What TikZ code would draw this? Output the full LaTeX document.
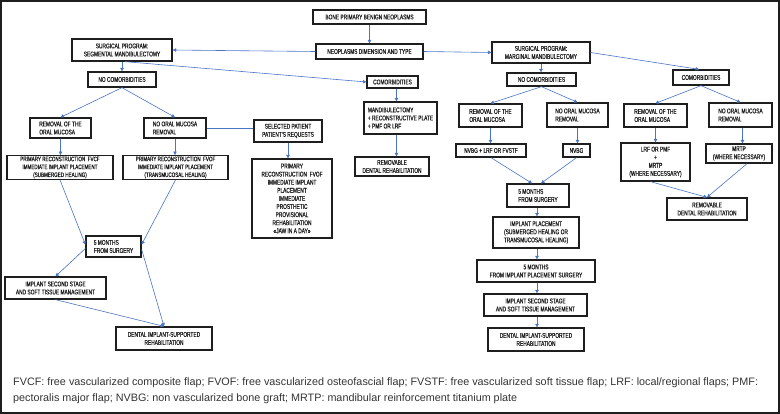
\documentclass[tikz,border=0pt]{standalone}
\usepackage{fontspec}
\usetikzlibrary{arrows.meta,calc}
\newfontfamily\boxfamily{Liberation Sans}[FakeStretch=0.7,FakeBold=0.6]
\newfontfamily\legfamily{Liberation Sans}
\definecolor{arrblue}{HTML}{4A74C4}
\definecolor{boxline}{HTML}{1E1E1E}
\definecolor{legtext}{HTML}{333333}
\tikzset{
  bx/.style={draw=boxline, line width=1.3pt, inner sep=1pt, text=boxline,
    font=\boxfamily\fontsize{6.9}{8.1}\selectfont, align=center},
  bxl/.style={bx, align=left},
  bxs/.style={bx, font=\boxfamily\fontsize{6.5}{7.9}\selectfont},
  wh/.style 2 args={minimum width=#1pt, minimum height=#2pt},
  arr/.style={draw=arrblue, line width=0.6pt, -{Triangle[width=3.4pt,length=3.4pt]}},
  plainline/.style={draw=arrblue, line width=0.6pt},
  legend/.style={anchor=west, inner sep=0pt, text=legtext,
    font=\legfamily\fontsize{10.8}{12}\selectfont}
}
\begin{document}
\begin{tikzpicture}[x=1pt,y=-1pt]
\useasboundingbox (0,0) rectangle (780,414);
\draw[line width=1.6pt, draw=boxline] (0.8,0.8) rectangle (779.2,413.2);

% top
\node[bx, wh={113}{14}] (title) at (369.5,17) {BONE PRIMARY BENIGN NEOPLASMS};
\node[bx, wh={107}{15}] (ndt) at (369.5,51.5) {NEOPLASMS DIMENSION AND TYPE};
\node[bx, wh={100}{22}] (seg) at (122,50) {SURGICAL PROGRAM:\\SEGMENTAL MANDIBULECTOMY};
\node[bx, wh={98}{21}] (mar) at (541,52.5) {SURGICAL PROGRAM:\\MARGINAL MANDIBULECTOMY};

% segmental branch
\node[bx, wh={68}{15}] (nc1) at (122,79.5) {NO COMORBIDITIES};
\node[bx, wh={51}{12}] (c1) at (392.5,82) {COMORBIDITIES};
\node[bxl, wh={61}{20}] (rom1) at (60.5,128) {REMOVAL OF THE\\ORAL MUCOSA};
\node[bxl, wh={62}{20}] (nom1) at (175,128) {NO ORAL MUCOSA\\REMOVAL};
\node[bx, wh={68}{22}] (sel) at (288,131) {SELECTED PATIENT\\PATIENT'S REQUESTS};
\node[bx, wh={80}{79}] (jaw) at (292,198.5) {PRIMARY\\RECONSTRUCTION\ \ FVOF\\IMMEDIATE IMPLANT\\PLACEMENT\\IMMEDIATE\\PROSTHETIC\\PROVISIONAL\\REHABILITATION\\«JAW IN A DAY»};
\node[bxl, wh={73}{32}] (mand) at (400.5,118) {MANDIBULECTOMY\\+ RECONSTRUCTIVE PLATE\\+ PMF OR LRF};
\node[bx, wh={74}{19}] (rdr1) at (392,166.5) {REMOVABLE\\DENTAL REHABILITATION};
\node[bxs, wh={106}{21}] (fvcf) at (60,167.5) {PRIMARY RECONSTRUCTION\ \ FVCF\\IMMEDIATE IMPLANT PLACEMENT\\(SUBMERGED HEALING)};
\node[bxs, wh={105}{21}] (fvof) at (175.5,167.5) {PRIMARY RECONSTRUCTION\ \ FVOF\\IMMEDIATE IMPLANT PLACEMENT\\(TRANSMUCOSAL HEALING)};
\node[bxl, wh={55}{21}] (fm1) at (113.5,246.5) {5 MONTHS\\FROM SURGERY};
\node[bx, wh={101}{22}] (iss1) at (55.5,288) {IMPLANT SECOND STAGE\\AND SOFT TISSUE MANAGEMENT};
\node[bx, wh={96}{23}] (dir1) at (164,338.5) {DENTAL IMPLANT-SUPPORTED\\REHABILITATION};

% marginal branch
\node[bx, wh={69}{13}] (nc2) at (541.5,79.5) {NO COMORBIDITIES};
\node[bx, wh={56}{15}] (c2) at (701,77.5) {COMORBIDITIES};
\node[bxl, wh={63}{23}] (rom2) at (490.5,115.5) {REMOVAL OF THE\\ORAL MUCOSA};
\node[bxl, wh={61}{24}] (nom2) at (577.5,115) {NO ORAL MUCOSA\\REMOVAL};
\node[bxl, wh={63}{23}] (rom3) at (655.5,115.5) {REMOVAL OF THE\\ORAL MUCOSA};
\node[bxl, wh={63}{24}] (nom3) at (740.5,115) {NO ORAL MUCOSA\\REMOVAL};
\node[bx, wh={70}{13}] (nvbg1) at (491,150.5) {NVBG + LRF OR FVSTF};
\node[bx, wh={27}{13}] (nvbg2) at (576.5,150.5) {NVBG};
\node[bxl, wh={62}{23}] (fm2) at (538,195.5) {5 MONTHS\\FROM SURGERY};
\node[bx, wh={69}{38}] (lrf) at (655.5,162) {LRF OR PMF\\+\\MRTP\\(WHERE NECESSARY)};
\node[bx, wh={66}{19}] (mrtp) at (739,153.5) {MRTP\\(WHERE NECESSARY)};
\node[bx, wh={80}{22}] (rdr2) at (707,209) {REMOVABLE\\DENTAL REHABILITATION};
\node[bx, wh={86}{31}] (ip) at (536,232.5) {IMPLANT PLACEMENT\\(SUBMERGED HEALING OR\\TRANSMUCOSAL HEALING)};
\node[bx, wh={118}{22}] (fm3) at (536,271) {5 MONTHS\\FROM IMPLANT PLACEMENT SURGERY};
\node[bx, wh={103}{22}] (iss2) at (535.5,305) {IMPLANT SECOND STAGE\\AND SOFT TISSUE MANAGEMENT};
\node[bx, wh={96}{23}] (dir2) at (536,339.5) {DENTAL IMPLANT-SUPPORTED\\REHABILITATION};

% helper coordinates
\coordinate (xmand) at (396.5,0);
\coordinate (xmarg) at (537,0);

% connectors: top
\draw[arr] (title) -- (ndt);
\draw[arr] (ndt.west) -- (seg.east);
\draw[arr] (ndt.east) -- (mar.west);
\draw[arr] ([xshift=3pt]seg.south) -- (c1.west);
\draw[arr] (seg.south) -- (nc1.north);
\draw[arr] (mar.east) -- ([xshift=-2pt]c2.north);
\draw[arr] (mar.south) -- (mar.south |- nc2.north);

% segmental
\draw[arr] (nc1.south) -- (rom1.north);
\draw[arr] (nc1.south) -- (nom1.north);
\draw[arr] (c1.south -| xmand) -- (mand.north -| xmand);
\draw[arr] (mand.south -| xmand) -- (rdr1.north -| xmand);
\draw[plainline] (nom1.east) -- (nom1.east -| sel.west);
\draw[arr] (sel.south) -- (sel.south |- jaw.north);
\draw[arr] (rom1.south) -- (rom1.south |- fvcf.north);
\draw[arr] (nom1.south) -- (nom1.south |- fvof.north);
\draw[arr] (fvcf.south) -- ([yshift=2pt]fm1.west);
\draw[arr] (fvof.south) -- ([yshift=2pt]fm1.east);
\draw[arr] ([yshift=-2pt]fm1.west) -- (iss1.north);
\draw[arr] ([yshift=-3pt]fm1.east) -- (dir1.north);
\draw[arr] (iss1.south) -- (dir1.north);

% marginal
\draw[arr] (nc2.south) -- (rom2.north);
\draw[arr] (nc2.south) -- (nom2.north);
\draw[arr] (c2.south) -- (rom3.north);
\draw[arr] (c2.south) -- (nom3.north);
\draw[arr] (rom2.south) -- (rom2.south |- nvbg1.north);
\draw[arr] (nom2.south) -- (nom2.south |- nvbg2.north);
\draw[arr] (nvbg1.south) -- ([xshift=-6pt]fm2.north);
\draw[arr] (nvbg2.south) -- ([xshift=3pt]fm2.north);
\draw[arr] (rom3.south) -- (rom3.south |- lrf.north);
\draw[arr] ([xshift=2pt]nom3.south) -- ([xshift=2pt]nom3.south |- mrtp.north);
\draw[arr] ([xshift=-5pt]lrf.south) -- (rdr2.north);
\draw[arr] ([xshift=8pt]mrtp.south) -- (rdr2.north);
\draw[arr] (fm2.south -| xmarg) -- (ip.north -| xmarg);
\draw[arr] (ip.south -| xmarg) -- (fm3.north -| xmarg);
\draw[arr] (fm3.south -| xmarg) -- (iss2.north -| xmarg);
\draw[arr] (iss2.south -| xmarg) -- (dir2.north -| xmarg);

% legend
\node[legend] (leg1) at (13,383) {FVCF: free vascularized composite flap; FVOF: free vascularized osteofascial flap; FVSTF: free vascularized soft tissue flap; LRF: local/regional flaps; PMF:};
\node[legend] (leg2) at (13,399) {pectoralis major flap; NVBG: non vascularized bone graft; MRTP: mandibular reinforcement titanium plate};
\end{tikzpicture}
\end{document}
